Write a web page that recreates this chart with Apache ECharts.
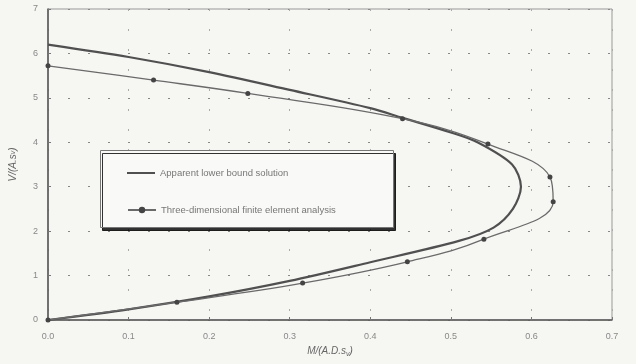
<!DOCTYPE html>
<html><head><meta charset="utf-8">
<script src="https://cdn.jsdelivr.net/npm/echarts@6/dist/echarts.min.js"></script>
<style>html,body{margin:0;padding:0;background:#f6f6f3;}#c{width:636px;height:364px;}</style>
</head><body><div id="c"></div>
<script>
var xTicks = ['0.0','0.1','0.2','0.3','0.4','0.5','0.6','0.7'];
var yTicks = ['0','1','2','3','4','5','6','7'];
var lowerBoundM = [0, 0.1, 0.2, 0.3, 0.4, 0.44, 0.5, 0.533, 0.576, 0.587, 0.577, 0.553, 0.51, 0.4, 0.3, 0.2, 0.1, 0];
var lowerBoundV = [6.2, 5.92, 5.58, 5.18, 4.77, 4.55, 4.22, 4.0, 3.5, 3.0, 2.5, 2.08, 1.78, 1.3, 0.88, 0.53, 0.24, 0];
var feM = [0, 0.131, 0.248, 0.44, 0.546, 0.623, 0.627, 0.541, 0.446, 0.316, 0.16, 0];
var feV = [5.72, 5.4, 5.1, 4.53, 3.96, 3.22, 2.66, 1.82, 1.31, 0.83, 0.4, 0];
var seriesNames = ['Apparent lower bound solution', 'Three-dimensional finite element analysis'];

function pairs(a, b){ return a.map(function(v,i){ return [v, b[i]]; }); }

var chart = echarts.init(document.getElementById('c'), null, {renderer:'canvas'});
var legendText = {color: '#777', fontSize: 9.5};
chart.setOption({
  backgroundColor: '#f6f6f3',
  animation: false,
  textStyle: {fontFamily: 'Liberation Sans, Arial, sans-serif'},
  grid: {left: 46, right: 24, top: 9, bottom: 44, show: true, borderColor: '#999', borderWidth: 1},
  xAxis: {
    type: 'value', min: 0, max: 0.7, interval: 0.1,
    name: '{i|M/(A.D.s}{s|v}{i|)}', nameLocation: 'middle', nameGap: 24,
    nameTextStyle: {rich: {i: {fontStyle: 'italic', fontSize: 10, color: '#666'}, s: {fontStyle:'italic', fontSize: 7, color:'#666', verticalAlign:'bottom', padding:[6,0,0,0]}}},
    axisLine: {lineStyle: {color: '#555', width: 1.5}},
    axisTick: {show: true, inside: true, length: 3, lineStyle:{color:'#777'}},
    axisLabel: {color: '#888', fontSize: 9, margin: 12, formatter: function(v){ return xTicks[Math.round(v*10)]; }},
    splitLine: {show: true, lineStyle: {color: '#aaa', type: [2, 18], width: 1}}
  },
  yAxis: {
    type: 'value', min: 0, max: 7, interval: 1,
    name: '{i|V/(A.s}{s|v}{i|)}', nameLocation: 'middle', nameGap: 30, nameRotate: 90,
    nameTextStyle: {rich: {i: {fontStyle: 'italic', fontSize: 10, color: '#666'}, s: {fontStyle:'italic', fontSize: 7, color:'#666'}}},
    axisLine: {lineStyle: {color: '#555', width: 1.5}},
    axisTick: {show: true, inside: true, length: 3, lineStyle:{color:'#777'}},
    axisLabel: {color: '#888', fontSize: 9, margin: 10, formatter: function(v){ return yTicks[v]; }},
    splitLine: {show: true, lineStyle: {color: '#888', type: [2, 18], width: 1.2}}
  },
  legend: [{
    show: true, left: 122, top: 163, icon: 'rect', itemWidth: 28, itemHeight: 2, itemGap: 8, z: 20,
    textStyle: legendText, data: [seriesNames[0]]
  }, {
    show: true, left: 122, top: 200, itemWidth: 28, itemHeight: 8, itemGap: 8, z: 20,
    textStyle: legendText, data: [seriesNames[1]]
  }],
  graphic: [{
    type: 'rect', z: 10, left: 100, top: 150,
    shape: {width: 293, height: 77},
    style: {fill: '#f9f9f7', stroke: '#777', lineWidth: 1, shadowColor: 'rgba(0,0,0,0.8)', shadowOffsetX: 2, shadowOffsetY: 3}
  }],
  series: [
    {name: seriesNames[0], type: 'line', data: pairs(lowerBoundM, lowerBoundV), smooth: 0.3, showSymbol: false, symbol:'none',
     lineStyle: {color: '#505050', width: 2.2}, itemStyle:{color:'#505050'}, z: 3},
    {name: seriesNames[1], type: 'line', data: pairs(feM, feV), smooth: 0.4, symbol: 'circle', symbolSize: 5,
     lineStyle: {color: '#6a6a6a', width: 1.3}, itemStyle: {color: '#444'}, z: 4}
  ]
});
</script></body></html>
